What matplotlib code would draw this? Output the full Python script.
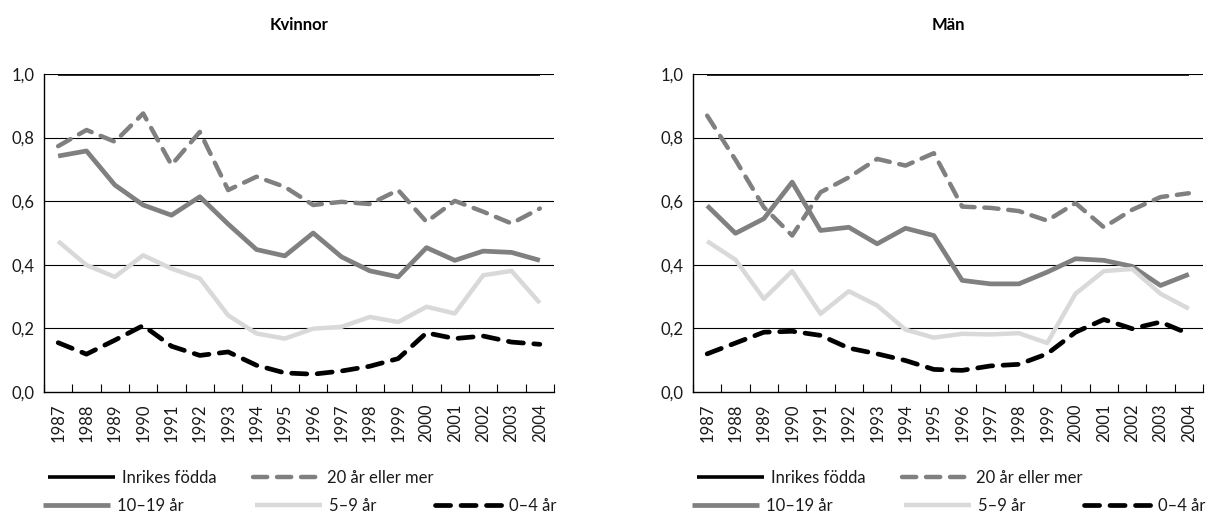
import matplotlib
matplotlib.use("Agg")
import matplotlib.pyplot as plt
from matplotlib.lines import Line2D
from matplotlib.ticker import FixedLocator, FuncFormatter

years = [str(y) for y in range(1987, 2005)]
panel_titles = ["Kvinnor", "Män"]
series_labels = ["Inrikes födda", "20 år eller mer", "10–19 år", "5–9 år", "0–4 år"]

# Kvinnor
k_inrikes = [1.0] * 18
k_20plus = [0.773, 0.824, 0.787, 0.876, 0.714, 0.818, 0.635, 0.677, 0.645, 0.588,
            0.598, 0.591, 0.635, 0.535, 0.601, 0.567, 0.530, 0.577]
k_10_19 = [0.742, 0.758, 0.651, 0.588, 0.556, 0.614, 0.528, 0.448, 0.428, 0.500,
           0.425, 0.381, 0.362, 0.454, 0.414, 0.443, 0.439, 0.414]
k_5_9 = [0.474, 0.399, 0.362, 0.430, 0.388, 0.357, 0.241, 0.184, 0.168, 0.199,
         0.205, 0.236, 0.220, 0.268, 0.247, 0.367, 0.381, 0.280]
k_0_4 = [0.155, 0.119, 0.163, 0.209, 0.144, 0.115, 0.126, 0.084, 0.060, 0.056,
         0.066, 0.081, 0.105, 0.186, 0.168, 0.176, 0.157, 0.150]

# Män
m_inrikes = [1.0] * 18
m_20plus = [0.869, 0.730, 0.581, 0.492, 0.628, 0.675, 0.733, 0.712, 0.751, 0.583,
            0.579, 0.569, 0.539, 0.594, 0.518, 0.573, 0.613, 0.625]
m_10_19 = [0.586, 0.499, 0.545, 0.660, 0.508, 0.518, 0.466, 0.515, 0.492, 0.351,
           0.340, 0.340, 0.377, 0.419, 0.414, 0.395, 0.335, 0.370]
m_5_9 = [0.474, 0.416, 0.293, 0.380, 0.246, 0.317, 0.272, 0.196, 0.171, 0.183,
         0.181, 0.185, 0.154, 0.309, 0.380, 0.387, 0.309, 0.262]
m_0_4 = [0.120, 0.154, 0.188, 0.191, 0.178, 0.138, 0.120, 0.099, 0.071, 0.068,
         0.082, 0.087, 0.120, 0.188, 0.228, 0.199, 0.220, 0.183]

y_ticks = [0.0, 0.2, 0.4, 0.6, 0.8, 1.0]

GRAY = "#808080"
LIGHT = "#d9d9d9"
styles = [
    dict(color="black", lw=2.6, ls="-", solid_capstyle="butt"),
    dict(color=GRAY, lw=3.2, ls=(0, (3.2, 2.2)), dash_capstyle="round"),
    dict(color=GRAY, lw=3.4, ls="-", solid_capstyle="butt"),
    dict(color=LIGHT, lw=3.2, ls="-", solid_capstyle="butt"),
    dict(color="black", lw=3.4, ls=(0, (3.2, 2.2)), dash_capstyle="round"),
]

FONT = ["Lato", "DejaVu Sans"]
plt.rcParams["font.family"] = FONT
TXT = "#1a1a1a"
FS = 12

W, H = 1215, 516
fig = plt.figure(figsize=(W / 100, H / 100), dpi=100)

panels = [
    (panel_titles[0], [k_inrikes, k_20plus, k_10_19, k_5_9, k_0_4], 44),
    (panel_titles[1], [m_inrikes, m_20plus, m_10_19, m_5_9, m_0_4], 693),
]

ax_w = 510
ax_top, ax_bot = 74, 392

# legend layout: (series index, dx from axis left, row y in px)
legend_layout = [(0, 4, 478), (1, 209, 478), (2, -1, 506), (3, 211, 506), (4, 391, 506)]

for title, data, left in panels:
    ax = fig.add_axes([left / W, 1 - ax_bot / H, ax_w / W, (ax_bot - ax_top) / H])
    x = list(range(len(years)))
    for idx in [3, 2, 1, 4, 0]:
        ax.plot(x, data[idx], zorder=3 + idx * 0.01, **styles[idx])
    ax.set_xlim(-0.5, len(years) - 0.5)
    ax.set_ylim(0, 1.0)
    ax.set_yticks(y_ticks)
    ax.yaxis.set_major_formatter(FuncFormatter(lambda v, p: f"{v:.1f}".replace(".", ",")))
    for yv in y_ticks[1:]:
        ax.axhline(yv, color="black", lw=0.8, zorder=1)
    ax.tick_params(axis="y", length=0, pad=7, labelsize=FS, colors=TXT)
    ax.set_xticks(x)
    ax.set_xticklabels(years, rotation=90)
    ax.tick_params(axis="x", which="major", length=0, pad=8, labelsize=FS, colors=TXT)
    ax.xaxis.set_minor_locator(FixedLocator([i - 0.5 for i in range(len(years) + 1)]))
    ax.tick_params(axis="x", which="minor", direction="in", length=5.5, width=0.8, color="black")
    for s in ["top", "right"]:
        ax.spines[s].set_visible(False)
    for s in ["left", "bottom"]:
        ax.spines[s].set_linewidth(1.0)
        ax.spines[s].set_color("black")
    ax.text(0.5, 1 + (ax_top - 25) / (ax_bot - ax_top), title, transform=ax.transAxes,
            ha="center", va="center", fontsize=12, fontweight="bold", color="black")

    for idx, dx, ypx in legend_layout:
        h = Line2D([], [], **styles[idx])
        leg = fig.legend([h], [series_labels[idx]], loc="center left",
                         bbox_to_anchor=((left + dx) / W, 1 - ypx / H),
                         frameon=False, borderpad=0, borderaxespad=0,
                         handlelength=4.0, handletextpad=0.45, fontsize=FS)
        for t in leg.get_texts():
            t.set_color(TXT)

fig.savefig("out.png", dpi=100)
